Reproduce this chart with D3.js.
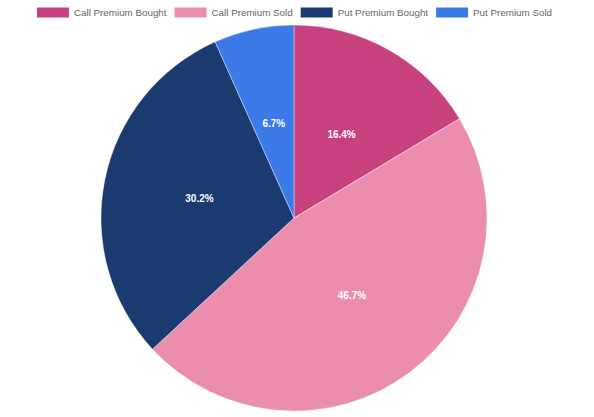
<!DOCTYPE html>
<html lang="en">
<head>
<meta charset="utf-8">
<script src="https://d3js.org/d3.v7.min.js"></script>
<style>
  body { margin: 0; background: #fff; }
  svg { display: block; font-family: "Liberation Sans", Arial, Helvetica, sans-serif; }
</style>
</head>
<body>
<div id="chart"></div>
<script>
    const labels = ["Call Premium Bought", "Call Premium Sold", "Put Premium Bought", "Put Premium Sold"];
    const values = [16.4, 46.7, 30.2, 6.7];
    const colors = ["#c8417f", "#eb8dad", "#1b3a6f", "#3b7ae8"];

    const width = 594, height = 417;
    const cx = 294, cy = 218, radius = 193;

    const svg = d3.select("#chart").append("svg")
        .attr("width", width).attr("height", height);

    // legend: box, gap, text, then spacing; centred above the pie
    const boxW = 32, boxH = 10, gap = 5, spacing = 8;
    const legend = svg.append("g");
    const items = legend.selectAll("g")
        .data(labels)
        .join("g");
    items.append("rect")
        .attr("y", 7.5)
        .attr("width", boxW).attr("height", boxH)
        .attr("fill", (d, i) => colors[i]);
    const texts = items.append("text")
        .attr("x", boxW + gap).attr("y", 16.3)
        .attr("font-size", 9.8)
        .attr("fill", "#666")
        .text(d => d);

    const widths = texts.nodes().map(n => n.getComputedTextLength());
    const total = d3.sum(widths) + labels.length * (boxW + gap) + (labels.length - 1) * spacing;
    let pos = 294.5 - total / 2;
    items.attr("transform", (d, i) => {
        const t = `translate(${pos},0)`;
        pos += boxW + gap + widths[i] + spacing;
        return t;
    });

    const pie = d3.pie().sort(null).value(d => d);
    const arcs = pie(values);
    const arc = d3.arc().innerRadius(0).outerRadius(radius);
    const labelArc = d3.arc().innerRadius(radius / 2).outerRadius(radius / 2);

    const g = svg.append("g").attr("transform", `translate(${cx},${cy})`);
    g.selectAll("path")
        .data(arcs)
        .join("path")
        .attr("d", arc)
        .attr("fill", (d, i) => colors[i])
        .attr("stroke", "#fff")
        .attr("stroke-width", 0.4);

    g.selectAll("text")
        .data(arcs)
        .join("text")
        .attr("transform", d => `translate(${labelArc.centroid(d)})`)
        .attr("text-anchor", "middle")
        .attr("dy", "0.35em")
        .attr("font-size", 10)
        .attr("font-weight", "bold")
        .attr("fill", "#fff")
        .text(d => d.data.toFixed(1) + "%");
</script>
</body>
</html>
